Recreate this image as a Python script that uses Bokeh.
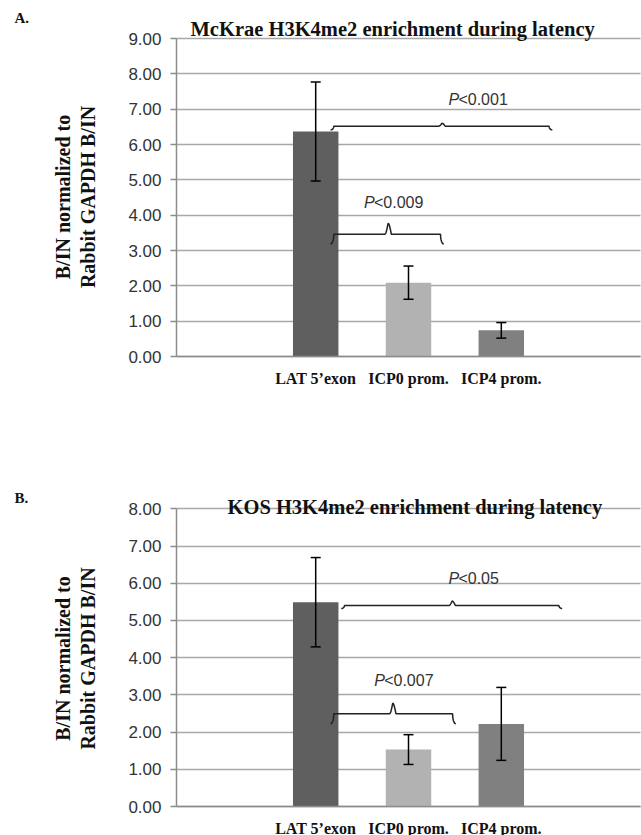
import math
from bokeh.plotting import figure
from bokeh.models import (Range1d, FixedTicker, Label, Whisker, ColumnDataSource,
                          TeeHead, PrintfTickFormatter, LinearAxis, Grid)
from bokeh.layouts import column
from bokeh.embed import file_html
from bokeh.resources import INLINE

# ---------------- data ----------------
categories = ["LAT 5\u2019exon", "ICP0 prom.", "ICP4 prom."]
cat_pos = [1, 2, 3]
bar_colors = ["#5f5f5f", "#b2b2b2", "#808080"]

mckrae_title = "McKrae H3K4me2  enrichment during latency"
mckrae_mean = [6.37, 2.09, 0.74]
mckrae_err = [1.40, 0.47, 0.22]
mckrae_ticks = [0, 1, 2, 3, 4, 5, 6, 7, 8, 9]

kos_title = "KOS H3K4me2  enrichment  during latency"
kos_mean = [5.49, 1.53, 2.22]
kos_err = [1.20, 0.40, 0.98]
kos_ticks = [0, 1, 2, 3, 4, 5, 6, 7, 8]

# significance brackets: x start, x end, x middle, y line, end drop, middle rise
mckrae_brackets = [
    (1.16, 3.55, 2.36, 6.52, 0.11, 0.08),
    (1.16, 2.38, 1.78, 3.46, 0.28, 0.31),
]
mckrae_pvals = [(2.43, 7.28, "<0.001"), (1.52, 4.37, "<0.009")]

kos_brackets = [
    (1.275, 3.656, 2.47, 5.40, 0.08, 0.12),
    (1.16, 2.51, 1.83, 2.49, 0.27, 0.285),
]
kos_pvals = [(2.43, 6.12, "<0.05"), (1.63, 3.39, "<0.007")]

ylabel_lines = ["B/IN normalized to", "Rabbit GAPDH B/IN"]

SERIF = "Liberation Serif"
SANS = "Liberation Sans"
W = 641
X_LO, X_HI = -0.5, 4.5          # category axis extent
FRAME_L, FRAME_R = 176, 640     # pixel extent of the plotting area


def bracket_path(x1, x2, xm, y0, drop, rise, cx=0.035):
    xs, ys = [], []
    n = 6
    for i in range(n + 1):
        t = i / n
        xs.append(x1 + cx * math.sin(t * math.pi / 2))
        ys.append(y0 - drop * math.cos(t * math.pi / 2))
    for i in range(n + 1):
        t = i / n
        xs.append(xm - cx + cx * t)
        ys.append(y0 + rise * (1 - math.cos(t * math.pi / 2)))
    for i in range(n + 1):
        t = i / n
        xs.append(xm + cx * t)
        ys.append(y0 + rise * math.cos(t * math.pi / 2))
    for i in range(n + 1):
        t = i / n
        xs.append(x2 - cx + cx * (1 - math.cos(t * math.pi / 2)))
        ys.append(y0 - drop * math.sin(t * math.pi / 2))
    return xs, ys


def make_panel(title, means, errs, ticks, brackets, pvals, letter,
               height, px_zero, px_top, title_x, title_base, letter_cy, ylabel_cy):
    ymax = ticks[-1]
    xs_ = (FRAME_R - FRAME_L) / (X_HI - X_LO)
    ys_ = (px_zero - px_top) / ymax
    x_range = Range1d(X_LO - FRAME_L / xs_, X_HI + (W - FRAME_R) / xs_)
    y_range = Range1d(-(height - px_zero) / ys_, ymax + px_top / ys_)

    p = figure(width=W, height=height, output_backend="svg", toolbar_location=None,
               x_range=x_range, y_range=y_range, x_axis_type=None, y_axis_type=None,
               min_border=0, min_border_left=0, min_border_right=0,
               min_border_top=0, min_border_bottom=0)
    p.outline_line_color = None
    p.background_fill_color = "white"
    p.grid.visible = False

    # horizontal gridlines limited to the plotting area
    try:
        g = Grid(dimension=1, ticker=FixedTicker(ticks=ticks), cross_bounds=(X_LO, X_HI),
                 grid_line_color="#a8a8a8", grid_line_width=1.5)
        p.add_layout(g)
    except AttributeError:
        p.segment(x0=[X_LO] * len(ticks), x1=[X_HI] * len(ticks), y0=ticks, y1=ticks,
                  line_color="#a8a8a8", line_width=1.5)

    yax = LinearAxis(fixed_location=X_LO, bounds=(0, ymax),
                     ticker=FixedTicker(ticks=ticks),
                     formatter=PrintfTickFormatter(format="%.2f"))
    yax.axis_line_color = "#8c8c8c"
    yax.axis_line_width = 1.5
    yax.major_tick_line_color = "#8c8c8c"
    yax.major_tick_line_width = 1.5
    yax.major_tick_out = 6
    yax.major_tick_in = 0
    yax.minor_tick_line_color = None
    yax.major_label_text_font = SANS
    yax.major_label_text_font_size = "17px"
    yax.major_label_text_color = "#333333"
    yax.major_label_standoff = 9
    p.add_layout(yax, "left")

    xax = LinearAxis(fixed_location=0, bounds=(X_LO, X_HI),
                     ticker=FixedTicker(ticks=cat_pos))
    xax.major_label_overrides = {c: t for c, t in zip(cat_pos, categories)}
    xax.axis_line_color = "#8c8c8c"
    xax.axis_line_width = 1.5
    xax.major_tick_line_color = None
    xax.minor_tick_line_color = None
    xax.major_label_text_font = SERIF
    xax.major_label_text_font_style = "bold"
    xax.major_label_text_font_size = "16px"
    xax.major_label_text_color = "#111111"
    xax.major_label_standoff = 7
    p.add_layout(xax, "below")

    src = ColumnDataSource(dict(
        x=cat_pos, top=means, color=bar_colors,
        upper=[m + e for m, e in zip(means, errs)],
        lower=[m - e for m, e in zip(means, errs)]))
    p.vbar(x="x", top="top", width=0.49, fill_color="color", line_color=None, source=src)
    p.add_layout(Whisker(source=src, base="x", upper="upper", lower="lower",
                         level="annotation", line_color="black", line_width=1.5,
                         upper_head=TeeHead(size=10, line_color="black", line_width=1.5),
                         lower_head=TeeHead(size=10, line_color="black", line_width=1.5)))

    for b in brackets:
        bx, by = bracket_path(*b)
        p.line(bx, by, line_color="#222222", line_width=1.5)

    for (x, y, t) in pvals:
        p.add_layout(Label(x=x, y=y, text="P", text_font=SANS, text_font_style="italic",
                           text_font_size="16px", text_color="#333333",
                           text_baseline="middle", text_align="left"))
        p.add_layout(Label(x=x, y=y, x_offset=10, text=t, text_font=SANS,
                           text_font_size="16px", text_color="#333333",
                           text_baseline="middle", text_align="left"))

    # screen units: frame covers the whole canvas, y measured from the bottom
    p.add_layout(Label(x=title_x, y=height - title_base, x_units="screen", y_units="screen",
                       text=title, text_font=SERIF, text_font_style="bold",
                       text_font_size="20.5px", text_color="#111111",
                       text_baseline="alphabetic", text_align="left"))
    p.add_layout(Label(x=14, y=height - letter_cy, x_units="screen", y_units="screen",
                       text=letter, text_font=SERIF, text_font_style="bold",
                       text_font_size="15px", text_color="#111111",
                       text_baseline="middle", text_align="left"))
    for lx, lt in zip((62, 87), ylabel_lines):
        p.add_layout(Label(x=lx, y=height - ylabel_cy, x_units="screen", y_units="screen",
                           text=lt, angle=math.pi / 2, text_font=SERIF,
                           text_font_style="bold", text_font_size="20px",
                           text_color="#111111", text_baseline="middle",
                           text_align="center"))
    return p


p1 = make_panel(mckrae_title, mckrae_mean, mckrae_err, mckrae_ticks,
                mckrae_brackets, mckrae_pvals, "A.",
                height=418, px_zero=356, px_top=38,
                title_x=190, title_base=28, letter_cy=17.5, ylabel_cy=196.5)
p2 = make_panel(kos_title, kos_mean, kos_err, kos_ticks,
                kos_brackets, kos_pvals, "B.",
                height=417, px_zero=388, px_top=90.3,
                title_x=227, title_base=88, letter_cy=79, ylabel_cy=240)

layout = column(p1, p2, spacing=0)
open("out.html", "w").write(file_html(layout, INLINE))
